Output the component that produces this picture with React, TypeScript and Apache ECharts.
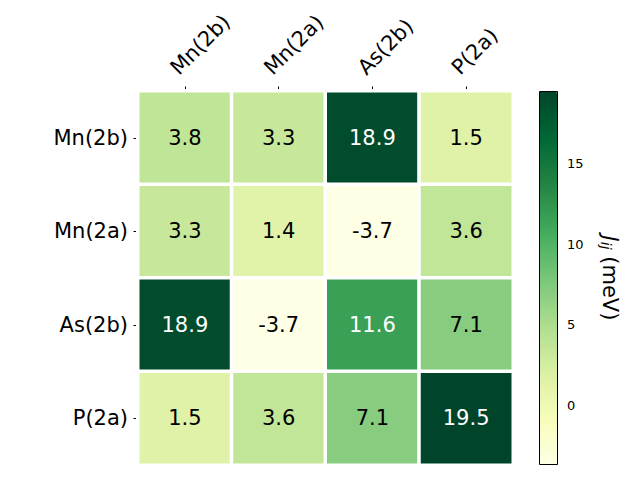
import React, { useEffect, useRef } from "react";
import * as echarts from "echarts";

const labels = ["Mn(2b)", "Mn(2a)", "As(2b)", "P(2a)"];
const matrix: number[][] = [
  [3.8, 3.3, 18.9, 1.5],
  [3.3, 1.4, -3.7, 3.6],
  [18.9, -3.7, 11.6, 7.1],
  [1.5, 3.6, 7.1, 19.5],
];
const vMin = -3.7;
const vMax = 19.5;
const cbarTicks = [0, 5, 10, 15];
const ylgn = ["#ffffe5", "#f7fcb9", "#d9f0a3", "#addd8e", "#78c679", "#41ab5d", "#238443", "#006837", "#004529"];

const FONT = "DejaVu Sans";

export default function App() {
  const ref = useRef<HTMLDivElement>(null);
  useEffect(() => {
    if (!ref.current) return;
    const chart = echarts.init(ref.current, null, { renderer: "svg" });
    const data: any[] = [];
    matrix.forEach((row, r) =>
      row.forEach((v, c) => {
        data.push({
          value: [c, r, v],
          label: { color: v > 10 ? "#ffffff" : "#000000" },
        });
      })
    );
    const L = 138, T = 91, W = 375, H = 374;
    chart.setOption({
      animation: false,
      backgroundColor: "#ffffff",
      textStyle: { fontFamily: FONT },
      grid: [
        { left: L, top: T, width: W, height: H },
        { left: 539, top: 91, width: 18, height: 374 },
      ],
      xAxis: [
        {
          type: "category",
          gridIndex: 0,
          position: "top",
          data: labels,
          axisLine: { show: false },
          axisTick: { show: true, alignWithLabel: true, length: 4.5, lineStyle: { color: "#000", width: 1 } },
          axisLabel: {
            rotate: -45,
            fontSize: 21,
            color: "#000",
            margin: 9,
            fontFamily: FONT,
            align: "left",
            verticalAlign: "bottom",
            padding: [0, 0, 5, 0],
          },
          splitLine: { show: false },
        },
        { type: "value", gridIndex: 1, show: false, min: 0, max: 1 },
      ],
      yAxis: [
        {
          type: "category",
          gridIndex: 0,
          inverse: true,
          data: labels,
          axisLine: { show: false },
          axisTick: { show: true, alignWithLabel: true, length: 4.5, lineStyle: { color: "#000", width: 1 } },
          axisLabel: { fontSize: 21, color: "#000", margin: 10, fontFamily: FONT },
          splitLine: { show: false },
        },
        {
          type: "value",
          gridIndex: 1,
          position: "right",
          min: vMin,
          max: vMax,
          axisLine: { show: false },
          splitLine: { show: false },
          axisTick: { show: true, length: 4, customValues: cbarTicks, lineStyle: { color: "#000", width: 1 } },
          axisLabel: { fontSize: 13, color: "#000", margin: 10, customValues: cbarTicks, fontFamily: FONT },
          name: "{i|J}{s|ij} (meV)",
          nameLocation: "middle",
          nameRotate: -90,
          nameGap: 42,
          nameTextStyle: {
            fontSize: 21,
            color: "#000",
            fontFamily: FONT,
            rich: {
              i: { fontSize: 21, fontStyle: "italic", fontFamily: FONT, color: "#000" },
              s: { fontSize: 14, fontStyle: "italic", fontFamily: FONT, color: "#000", padding: [8, 0, 0, 0] },
            },
          },
        },
      ],
      visualMap: {
        type: "continuous",
        seriesIndex: 0,
        min: vMin,
        max: vMax,
        orient: "vertical",
        left: 539,
        top: 91,
        itemWidth: 18,
        itemHeight: 374,
        padding: 0,
        calculable: false,
        hoverLink: false,
        inRange: { color: ylgn },
      },
      graphic: [
        {
          type: "rect",
          z: 100,
          shape: { x: 539.5, y: 91.5, width: 18, height: 373 },
          style: { fill: "none", stroke: "#000", lineWidth: 1 },
        },
      ],
      series: [
        {
          type: "heatmap",
          xAxisIndex: 0,
          yAxisIndex: 0,
          data,
          itemStyle: { borderColor: "#ffffff", borderWidth: 3.5 },
          label: {
            show: true,
            fontSize: 21,
            fontFamily: FONT,
            formatter: (p: any) => p.value[2].toFixed(1),
          },
        },
      ],
    });
    return () => chart.dispose();
  }, []);
  return <div ref={ref} style={{ width: 640, height: 480, margin: -8 }} />;
}
